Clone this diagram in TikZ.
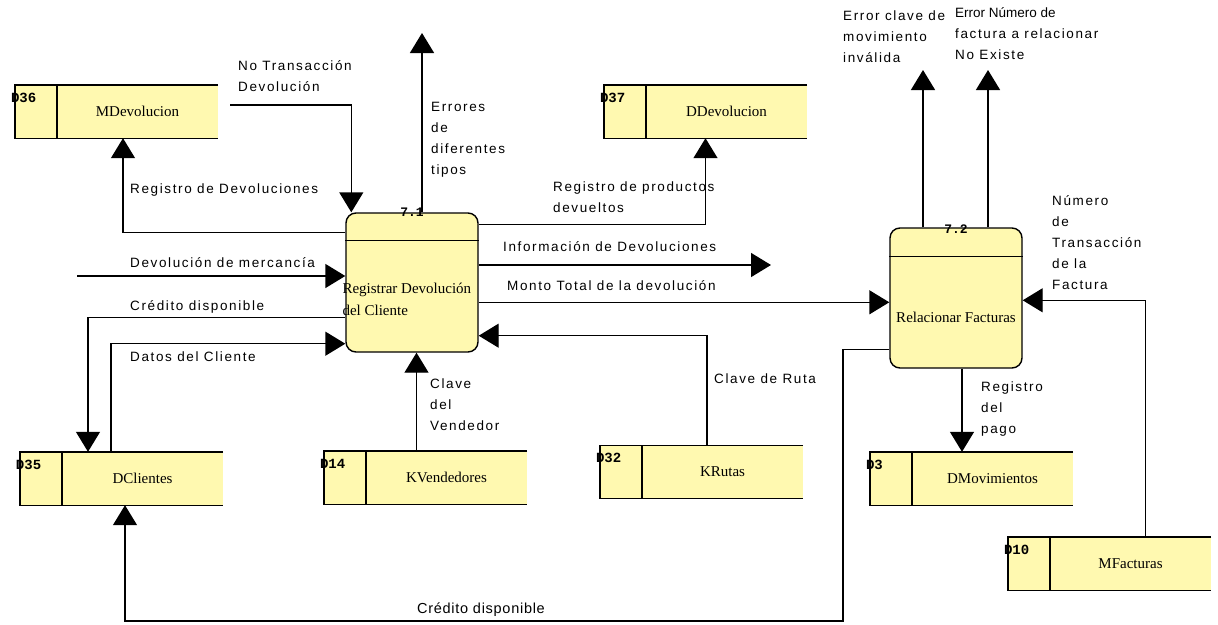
\documentclass[tikz,border=0pt]{standalone}
\usepackage{fontspec}
\setmainfont{Liberation Serif}
\newfontfamily\flowfont[LetterSpace=12]{Liberation Sans}
\newfontfamily\plainsans{Liberation Sans}
\newfontfamily\bottomfont[LetterSpace=5]{Liberation Sans}
\newfontfamily\idfont{Liberation Mono}
\usetikzlibrary{arrows.meta}
\definecolor{storefill}{RGB}{255,249,176}

\begin{document}
\begin{tikzpicture}[x=1pt,y=-1pt,
  edge/.style={line width=1.4pt},
  flowarrow/.style={edge,-{Triangle[width=24pt,length=20pt]}},
  flowlabel/.style={anchor=west,align=left,inner sep=0pt,
    font=\flowfont\fontsize{13.5}{21}\selectfont},
  storebox/.style={minimum width=203pt,minimum height=53pt,inner sep=0pt,
    fill=storefill,draw=none},
  storename/.style={inner sep=0pt,font=\fontsize{15}{18}\selectfont},
  storeid/.style={anchor=west,inner sep=0pt,font=\idfont\bfseries\fontsize{14}{16}\selectfont},
  procbox/.style={draw,line width=1.4pt,fill=storefill,rounded corners=10pt,
    minimum width=132pt,inner sep=0pt},
  procname/.style={inner sep=0pt,align=left,font=\fontsize{15}{22}\selectfont},
  procid/.style={inner sep=0pt,font=\idfont\bfseries\fontsize{13}{14}\selectfont},
  pics/datastore/.style n args={2}{code={
    \node[storebox] (-box) {};
    \draw[edge] (-box.north east) -- (-box.north west) -- (-box.south west) -- (-box.south east);
    \draw[edge] ([xshift=42pt]-box.north west) -- ([xshift=42pt]-box.south west);
    \node[storeid] at ([xshift=-4pt,yshift=-13pt]-box.north west) {#1};
    \node[storename] at ([xshift=21pt]-box.center) {#2};
  }}
]
\fill[white] (0,0) rectangle (1218,624);
\useasboundingbox (0,0) rectangle (1218,624);

% data stores
\pic (mdev) at (116.5,111.5) {datastore={D36}{MDevolucion}};
\pic (ddev) at (705.5,111.5) {datastore={D37}{DDevolucion}};
\pic (dcli) at (121.5,478.5) {datastore={D35}{DClientes}};
\pic (kven) at (425.5,477.5) {datastore={D14}{KVendedores}};
\pic (krut) at (701.5,472)   {datastore={D32}{KRutas}};
\pic (dmov) at (971.5,478.5) {datastore={D3}{DMovimientos}};
\pic (mfac) at (1109.5,563.5) {datastore={D10}{MFacturas}};

% processes
\node[procbox,minimum height=139pt] (p71) at (412,282.5) {};
\draw[edge] ([yshift=-28pt]p71.north west) -- ([yshift=-28pt]p71.north east);
\node[procid] at (p71.north) {7.1};
\node[procname,anchor=west] at ([xshift=-3pt,yshift=-16.5pt]p71.west)
  {Registrar Devolución\\del Cliente};

\node[procbox,minimum height=140pt] (p72) at (956,298) {};
\draw[edge] ([yshift=-29pt]p72.north west) -- ([yshift=-29pt]p72.north east);
\node[procid] at ([yshift=-2pt]p72.north) {7.2};
\node[procname] at ([yshift=-19.5pt]p72.center) {Relacionar Facturas};

% free ends
\coordinate (ntsrc) at (230,105);
\coordinate (errtip) at (422,33);
\coordinate (infotip) at (771,265);
\coordinate (dmsrc) at (77,276);
\coordinate (e1tip) at (923,70);
\coordinate (e2tip) at (988,70);
\coordinate (cbend) at (843,621);

% flows of process 7.1
\draw[flowarrow] (ntsrc) -| ([xshift=6pt]p71.north west);
\draw[flowarrow] ([yshift=-20pt]p71.north west) -| ([xshift=6.5pt]mdev-box.south);
\draw[flowarrow] (errtip |- p71.north) -- (errtip);
\draw[flowarrow] ([yshift=-12pt]p71.north east) -| (ddev-box.south);
\draw[flowarrow] (infotip -| p71.east) -- (infotip);
\draw[flowarrow] ([yshift=-90pt]p71.north east) coordinate (m0) -- (m0 -| p72.west);
\draw[flowarrow] ([xshift=5.5pt]krut-box.north) |- ([yshift=17pt]p71.south east);
\draw[flowarrow] (dmsrc) -- (dmsrc -| p71.west);
\draw[flowarrow] ([yshift=-105pt]p71.north west) -| ([xshift=-33.5pt]dcli-box.north);
\draw[flowarrow] ([xshift=-10.5pt]dcli-box.north) |- ([yshift=9pt]p71.south west);
\draw[flowarrow] ([xshift=-9pt]kven-box.north) -- ([xshift=-9pt]kven-box.north |- p71.south);

% flows of process 7.2
\draw[flowarrow] (e1tip |- p72.north) -- (e1tip);
\draw[flowarrow] (e2tip |- p72.north) -- (e2tip);
\draw[flowarrow] ([xshift=36pt]mfac-box.north) |- ([yshift=-73pt]p72.north east);
\draw[flowarrow] ([xshift=6pt]p72.south) -- ([xshift=6pt]p72.south |- dmov-box.north);
\draw[flowarrow] ([yshift=19pt]p72.south west) -| (cbend) -| ([xshift=3.5pt]dcli-box.south);

% flow labels
\node[flowlabel] at (238,76) {No Transacción\\Devolución};
\node[flowlabel] at (130,190) {Registro de Devoluciones};
\node[flowlabel] at (431,140) {Errores\\de\\diferentes\\tipos};
\node[flowlabel] at (553,197.5) {Registro de productos\\devueltos};
\node[flowlabel] at (503,247) {Información de Devoluciones};
\node[flowlabel] at (507,286) {Monto Total de la devolución};
\node[flowlabel] at (714,379) {Clave de Ruta};
\node[flowlabel] at (130,263) {Devolución de mercancía};
\node[flowlabel] at (130,307) {Crédito disponible};
\node[flowlabel] at (130,357) {Datos del Cliente};
\node[flowlabel] at (430,405) {Clave\\del\\Vendedor};
\node[flowlabel] at (843,37) {Error clave de\\movimiento\\inválida};
\node[flowlabel] at (955,34) {{\plainsans Error Número de}\\factura a relacionar\\No Existe};
\node[flowlabel] at (1052,242.5) {Número\\de\\Transacción\\de la\\Factura};
\node[flowlabel] at (981,409) {Registro\\del\\pago};
\node[flowlabel,anchor=center,font=\bottomfont\fontsize{14.5}{16}\selectfont] at (481,610) {Crédito disponible};
\end{tikzpicture}
\end{document}
